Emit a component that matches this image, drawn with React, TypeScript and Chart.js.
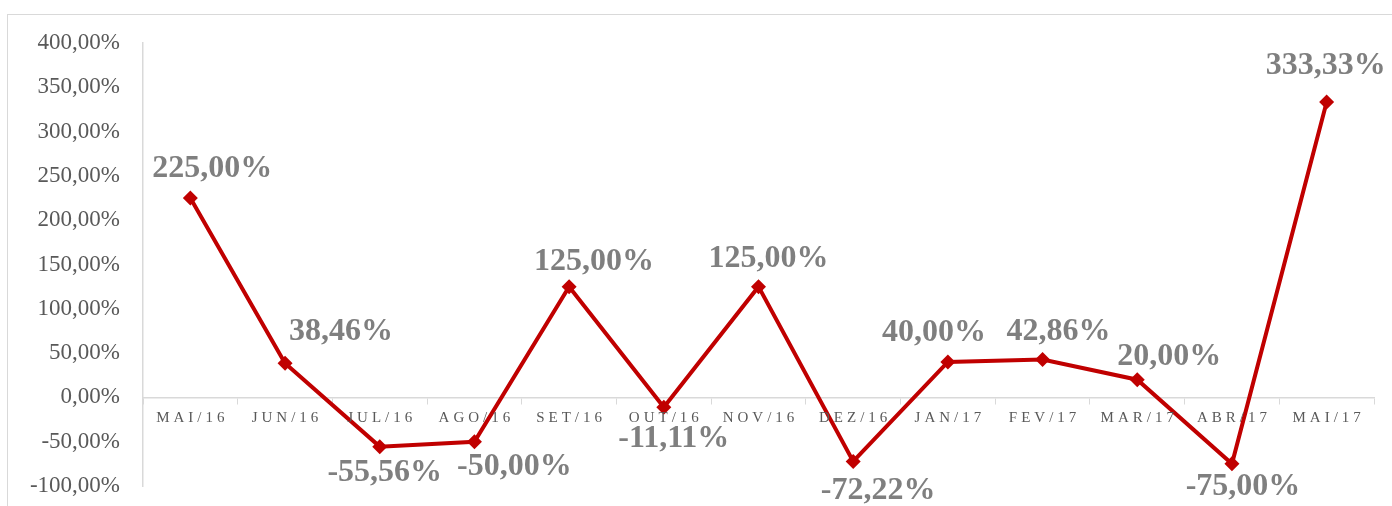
import React, { useEffect, useRef } from "react";
import { Chart, registerables } from "chart.js";

Chart.register(...registerables);

const categories = [
  "MAI/16", "JUN/16", "JUL/16", "AGO/16", "SET/16", "OUT/16", "NOV/16",
  "DEZ/16", "JAN/17", "FEV/17", "MAR/17", "ABR/17", "MAI/17",
];
const variation = [225.0, 38.46, -55.56, -50.0, 125.0, -11.11, 125.0, -72.22, 40.0, 42.86, 20.0, -75.0, 333.33];
const yMin = -100;
const yMax = 400;
const yStep = 50;

// label placement (dx, dy from each point, in px)
const labelDx = [22, 56, 5, 40, 25, 10, 10, 25, -14, 16, 32, 11, -1];
const labelDy = [-29, -32, 26, 25, -25, 31, -28, 29, -29, -28, -23, 23, -36];

const fmt = (v: number) => v.toFixed(2).replace(".", ",") + "%";

const W = 1392;
const H = 506;

export default function App() {
  const ref = useRef<HTMLCanvasElement | null>(null);

  useEffect(() => {
    if (!ref.current) return;
    const labelsPlugin = {
      id: "customLabels",
      afterDatasetsDraw(chart: any) {
        const ctx = chart.ctx;
        const meta = chart.getDatasetMeta(0);
        ctx.save();
        ctx.font = "bold 32px 'Liberation Serif', 'Times New Roman', serif";
        ctx.fillStyle = "#7f7f7f";
        ctx.textAlign = "center";
        ctx.textBaseline = "middle";
        meta.data.forEach((pt: any, i: number) => {
          ctx.fillText(fmt(variation[i]), pt.x + labelDx[i], pt.y + labelDy[i]);
        });
        ctx.restore();
      },
      afterDraw(chart: any) {
        const ctx = chart.ctx;
        const xs = chart.scales.x;
        const y0 = chart.scales.y.getPixelForValue(0);
        ctx.save();
        ctx.font = "15px 'Liberation Serif', 'Times New Roman', serif";
        (ctx as any).letterSpacing = "4px";
        ctx.fillStyle = "#595959";
        ctx.textAlign = "center";
        ctx.textBaseline = "middle";
        categories.forEach((c, i) => {
          ctx.fillText(c, xs.getPixelForValue(i) + 2, y0 + 21);
        });
        ctx.restore();
      },
    };
    const chart = new Chart(ref.current, {
      type: "line",
      data: {
        labels: categories,
        datasets: [
          {
            data: variation,
            borderColor: "#c00000",
            backgroundColor: "#c00000",
            borderWidth: 4,
            pointStyle: "rectRot",
            pointRadius: 7.5,
            pointBorderWidth: 0,
            pointBackgroundColor: "#c00000",
            tension: 0,
          },
        ],
      },
      options: {
        responsive: false,
        animation: false,
        layout: { padding: { left: 0, top: 43, right: 18, bottom: 20 } },
        plugins: {
          legend: { display: false },
          tooltip: { enabled: false },
          title: { display: false },
        },
        scales: {
          x: {
            type: "category",
            position: { y: 0 } as any,
            offset: true,
            grid: {
              display: true,
              drawOnChartArea: false,
              drawTicks: true,
              tickLength: 6,
              color: "#d9d9d9",
              offset: true,
            },
            border: { display: true, color: "#d9d9d9", width: 1.5 },
            ticks: { display: false },
            afterFit: (s: any) => {
              s.height = 0;
              s.paddingLeft = 0;
              s.paddingRight = 0;
              s.paddingTop = 0;
              s.paddingBottom = 0;
            },
          },
          y: {
            min: yMin,
            max: yMax,
            ticks: {
              stepSize: yStep,
              padding: 15,
              color: "#595959",
              font: { family: "'Liberation Serif', 'Times New Roman', serif", size: 23 },
              callback: (v: any) => fmt(Number(v)),
            },
            grid: { display: false },
            border: { display: true, color: "#d9d9d9", width: 1.5 },
            afterFit: (s: any) => {
              s.width = 143;
              s.paddingTop = 0;
              s.paddingBottom = 0;
            },
          },
        },
      },
      plugins: [labelsPlugin],
    });
    return () => chart.destroy();
  }, []);

  return (
    <div style={{ position: "fixed", left: 0, top: 0, width: W, height: H, overflow: "hidden", background: "#fff" }}>
      <div
        style={{
          position: "absolute",
          left: 7,
          top: 14,
          width: 2000,
          height: 2000,
          border: "1px solid #d9d9d9",
        }}
      />
      <canvas ref={ref} width={W} height={H} style={{ position: "absolute", left: 0, top: 0, width: W, height: H }} />
    </div>
  );
}
